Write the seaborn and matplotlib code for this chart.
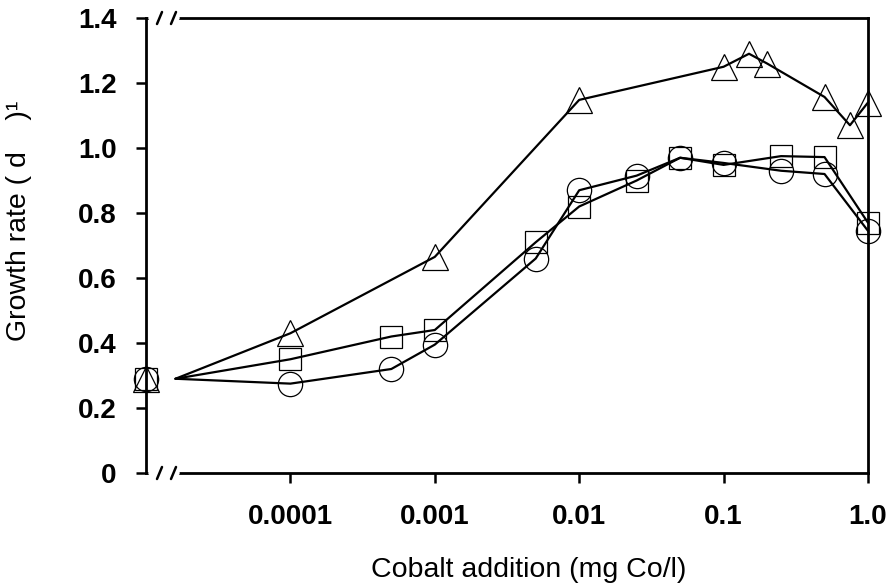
import numpy as np
import pandas as pd
import matplotlib
matplotlib.use("Agg")
import matplotlib.pyplot as plt
import seaborn as sns
from matplotlib.lines import Line2D

# ---- data ----
control_x = 1e-5          # control (no addition) plotted on the broken-axis origin
line_origin_x = 1.6e-5    # where the connecting lines start, just right of the break
control_y = 0.29

conc_sq = [0.0001, 0.0005, 0.001, 0.005, 0.01, 0.025, 0.05, 0.1, 0.25, 0.5, 1.0]
rate_sq = [0.35, 0.42, 0.44, 0.71, 0.82, 0.90, 0.97, 0.948, 0.975, 0.972, 0.77]

conc_ci = [0.0001, 0.0005, 0.001, 0.005, 0.01, 0.025, 0.05, 0.1, 0.25, 0.5, 1.0]
rate_ci = [0.275, 0.32, 0.395, 0.66, 0.87, 0.915, 0.97, 0.954, 0.93, 0.92, 0.745]

conc_tr = [0.0001, 0.001, 0.01, 0.1, 0.15, 0.2, 0.5, 0.75, 1.0]
rate_tr = [0.43, 0.665, 1.148, 1.25, 1.29, 1.26, 1.157, 1.07, 1.14]

yticks = [0, 0.2, 0.4, 0.6, 0.8, 1.0, 1.2, 1.4]
ytick_labels = ["0", "0.2", "0.4", "0.6", "0.8", "1.0", "1.2", "1.4"]
xticks = [0.0001, 0.001, 0.01, 0.1, 1.0]
xtick_labels = ["0.0001", "0.001", "0.01", "0.1", "1.0"]

sns.set_theme(style="white")
plt.rcParams["font.family"] = ["Liberation Sans", "DejaVu Sans"]
plt.rcParams["text.color"] = "black"
plt.rcParams["axes.labelcolor"] = "black"

W, H = 893, 587
fig = plt.figure(figsize=(W / 100, H / 100), dpi=100)
L, R, B, T = 146, 868, 473, 18
ax = fig.add_axes([L / W, (H - B) / H, (R - L) / W, (B - T) / H])

series = [
    (conc_tr, rate_tr, "^", 19),
    (conc_sq, rate_sq, "s", 15.5),
    (conc_ci, rate_ci, "o", 17.5),
]

for cx, cy, mk, ms in series:
    df = pd.DataFrame({"x": [line_origin_x] + list(cx), "y": [control_y] + list(cy)})
    sns.lineplot(data=df, x="x", y="y", ax=ax, color="black", lw=1.6,
                 estimator=None, sort=False)
    ax.plot([control_x] + list(cx), [control_y] + list(cy), ls="none", marker=mk,
            ms=ms, mfc="none", mec="black", mew=0.9, clip_on=False, zorder=5)

ax.set_xscale("log")
ax.set_xlim(1e-5, 1.0)
ax.set_ylim(0, 1.4)
ax.set_xticks(xticks)
ax.set_xticklabels(xtick_labels)
ax.xaxis.set_minor_locator(matplotlib.ticker.NullLocator())
ax.set_yticks(yticks)
ax.set_yticklabels(ytick_labels)
ax.tick_params(axis="both", direction="out", length=7, width=1.8, labelsize=20,
               colors="black", left=True, bottom=True)
ax.tick_params(axis="x", pad=15)
ax.tick_params(axis="y", pad=14)
for lab in ax.get_xticklabels() + ax.get_yticklabels():
    lab.set_fontweight("bold")

for s in ax.spines.values():
    s.set_visible(True)
    s.set_color("black")
    s.set_linewidth(2.0)

ax.set_xlabel("Cobalt addition (mg Co/l)", fontsize=20.5, labelpad=20)
ax.xaxis.set_label_coords(0.53, -0.185)
ax.set_ylabel("Growth rate ( d    )\u00b9", fontsize=20.5)
ax.yaxis.set_label_coords(-0.158, 0.555)

# axis breaks on top and bottom spines
trans = ax.transAxes
def fx(px):
    return (px - L) / (R - L)
def fy(py):
    return (B - py) / (B - T)

for ybase in (B, T):
    ax.add_line(Line2D([fx(151), fx(177)], [fy(ybase), fy(ybase)], transform=trans,
                       color="white", lw=4, clip_on=False, zorder=6))
    for xs in (157, 171):
        ax.add_line(Line2D([fx(xs), fx(xs + 5)], [fy(ybase + 6), fy(ybase - 6)],
                           transform=trans, color="black", lw=1.8, clip_on=False, zorder=7))

fig.savefig("out.png", dpi=100, facecolor="white")
